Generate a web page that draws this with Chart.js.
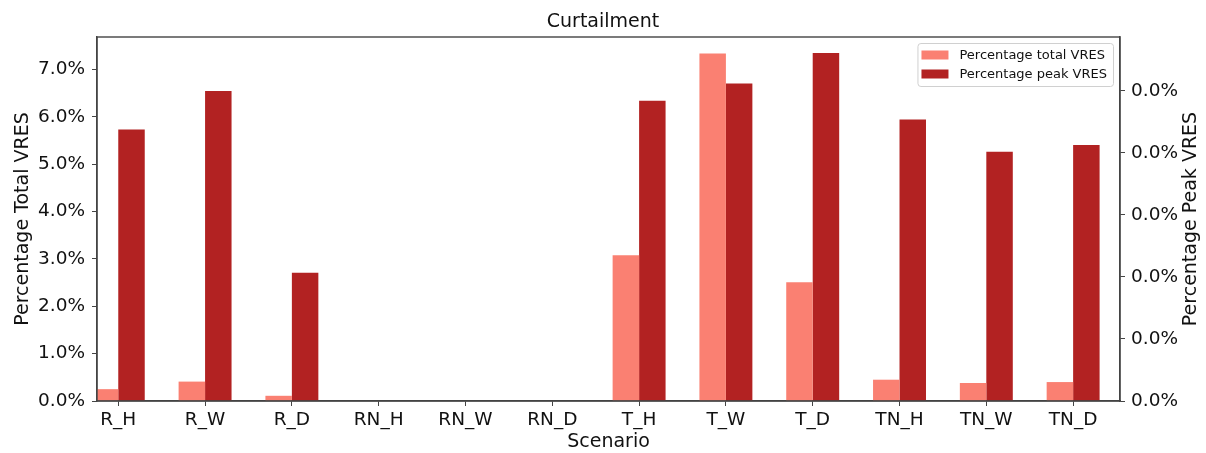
<!DOCTYPE html>
<html><head><meta charset="utf-8">
<script src="https://cdn.jsdelivr.net/npm/chart.js@4/dist/chart.umd.min.js"></script>
<style>html,body{margin:0;padding:0;background:#fff;}#wrap{width:1206px;height:453px;position:relative;}</style>
</head><body><div id="wrap"><canvas id="c" width="1206" height="453"></canvas></div>
<script>
const categories = ['R_H','R_W','R_D','RN_H','RN_W','RN_D','T_H','T_W','T_D','TN_H','TN_W','TN_D'];
const totalVRES = [0.25, 0.41, 0.11, 0, 0, 0, 3.08, 7.34, 2.51, 0.45, 0.38, 0.40];
const peakVRES = [0.0219, 0.0250, 0.01035, 0, 0, 0, 0.0242, 0.0256, 0.02805, 0.0227, 0.0201, 0.02065];
const leftTicks = [0, 1, 2, 3, 4, 5, 6, 7];
const rightTicks = [0, 0.005, 0.01, 0.015, 0.02, 0.025];
const seriesLabels = ['Percentage total VRES', 'Percentage peak VRES'];
const seriesColors = ['#FA8072', '#B22222'];
const rightTitle = 'Percentage Peak VRES';

const FONT = 'DejaVu Sans';
const AXIS_COLOR = '#444';

const framePlugin = {
  id: 'frame',
  afterDatasetsDraw(chart) {
    const {ctx, chartArea: a} = chart;
    ctx.save();
    ctx.strokeStyle = AXIS_COLOR;
    ctx.lineWidth = 1.4;
    ctx.strokeRect(a.left, a.top, a.right - a.left, a.bottom - a.top);
    ctx.restore();
  }
};

// Right-axis title reading bottom-to-top (as in the reference)
const rightTitlePlugin = {
  id: 'rightTitle',
  afterDraw(chart) {
    const {ctx, chartArea: a} = chart;
    const s = chart.scales.y2;
    ctx.save();
    ctx.font = '19px "' + FONT + '"';
    ctx.fillStyle = '#111';
    ctx.textAlign = 'center';
    ctx.textBaseline = 'middle';
    ctx.translate(s.right - 15, (a.top + a.bottom) / 2);
    ctx.rotate(-Math.PI / 2);
    ctx.fillText(rightTitle, 0, 0);
    ctx.restore();
  }
};

const boxLegend = {
  id: 'boxLegend',
  afterDraw(chart) {
    const {ctx, chartArea: a} = chart;
    ctx.save();
    ctx.font = '13px "' + FONT + '"';
    const textW = Math.max(...seriesLabels.map(t => ctx.measureText(t).width));
    const w = 42 + textW + 6;
    const h = 43;
    const x = a.right - 7 - w;
    const y = a.top + 6;
    ctx.fillStyle = 'rgba(255,255,255,0.85)';
    ctx.strokeStyle = '#d0d0d0';
    ctx.lineWidth = 1;
    ctx.beginPath();
    ctx.roundRect(x + 0.5, y + 0.5, w, h, 3);
    ctx.fill();
    ctx.stroke();
    seriesLabels.forEach((t, i) => {
      const cy = y + 11.5 + i * 19;
      ctx.fillStyle = seriesColors[i];
      ctx.fillRect(x + 4, cy - 4, 27, 9);
      ctx.fillStyle = '#111';
      ctx.textBaseline = 'middle';
      ctx.textAlign = 'left';
      ctx.fillText(t, x + 42, cy + 1);
    });
    ctx.restore();
  }
};

const ctx = document.getElementById('c').getContext('2d');
new Chart(ctx, {
  type: 'bar',
  data: {
    datasets: [
      {
        label: seriesLabels[0],
        data: totalVRES.map((v, i) => ({x: i, y: v})),
        backgroundColor: seriesColors[0],
        yAxisID: 'y',
        clip: 0,
        categoryPercentage: 0.61,
        barPercentage: 1.0
      },
      {
        label: seriesLabels[1],
        data: peakVRES.map((v, i) => ({x: i, y: v})),
        backgroundColor: seriesColors[1],
        yAxisID: 'y2',
        clip: 0,
        categoryPercentage: 0.61,
        barPercentage: 1.0
      }
    ]
  },
  options: {
    responsive: false,
    animation: false,
    devicePixelRatio: 1,
    layout: {padding: 0},
    plugins: {
      legend: {display: false},
      tooltip: {enabled: false},
      title: {
        display: true,
        text: 'Curtailment',
        color: '#111',
        font: {family: FONT, size: 19, weight: 'normal', lineHeight: 1.2},
        padding: {top: 10.5, bottom: 3.7}
      }
    },
    scales: {
      x: {
        type: 'linear',
        offset: false,
        min: -0.245,
        max: 11.54,
        afterBuildTicks(scale) { scale.ticks = categories.map((c, i) => ({value: i})); },
        afterFit(scale) { scale.height = 52; },
        ticks: {
          callback: (v) => categories[v],
          color: '#111',
          font: {family: FONT, size: 18.5},
          padding: 3,
          maxRotation: 0,
          autoSkip: false
        },
        grid: {drawOnChartArea: false, drawTicks: true, tickLength: 5, tickColor: AXIS_COLOR, offset: false},
        border: {display: true, color: AXIS_COLOR, width: 1.4},
        title: {display: true, text: 'Scenario', color: '#111', font: {family: FONT, size: 19}, padding: {top: 0, bottom: 0}}
      },
      y: {
        position: 'left',
        min: 0,
        max: 7.69,
        afterBuildTicks(scale) { scale.ticks = leftTicks.map(v => ({value: v})); },
        afterFit(scale) { scale.width = 97; },
        ticks: {
          callback: (v) => Number(v).toFixed(1) + '%',
          color: '#111',
          font: {family: FONT, size: 18.5},
          padding: 7
        },
        grid: {drawOnChartArea: false, drawTicks: true, tickLength: 5, tickColor: AXIS_COLOR},
        border: {display: true, color: AXIS_COLOR, width: 1.4},
        title: {display: true, text: 'Percentage Total VRES', color: '#111', font: {family: FONT, size: 19}, padding: {top: 11.6, bottom: 0}}
      },
      y2: {
        position: 'right',
        min: 0,
        max: 0.02935,
        afterBuildTicks(scale) { scale.ticks = rightTicks.map(v => ({value: v})); },
        afterFit(scale) { scale.width = 86; },
        ticks: {
          callback: (v) => Number(v).toFixed(1) + '%',
          color: '#111',
          font: {family: FONT, size: 18.5},
          padding: 6
        },
        grid: {drawOnChartArea: false, drawTicks: true, tickLength: 5, tickColor: AXIS_COLOR},
        border: {display: true, color: AXIS_COLOR, width: 1.4},
        title: {display: false}
      }
    }
  },
  plugins: [framePlugin, rightTitlePlugin, boxLegend]
});
</script>
</body></html>
